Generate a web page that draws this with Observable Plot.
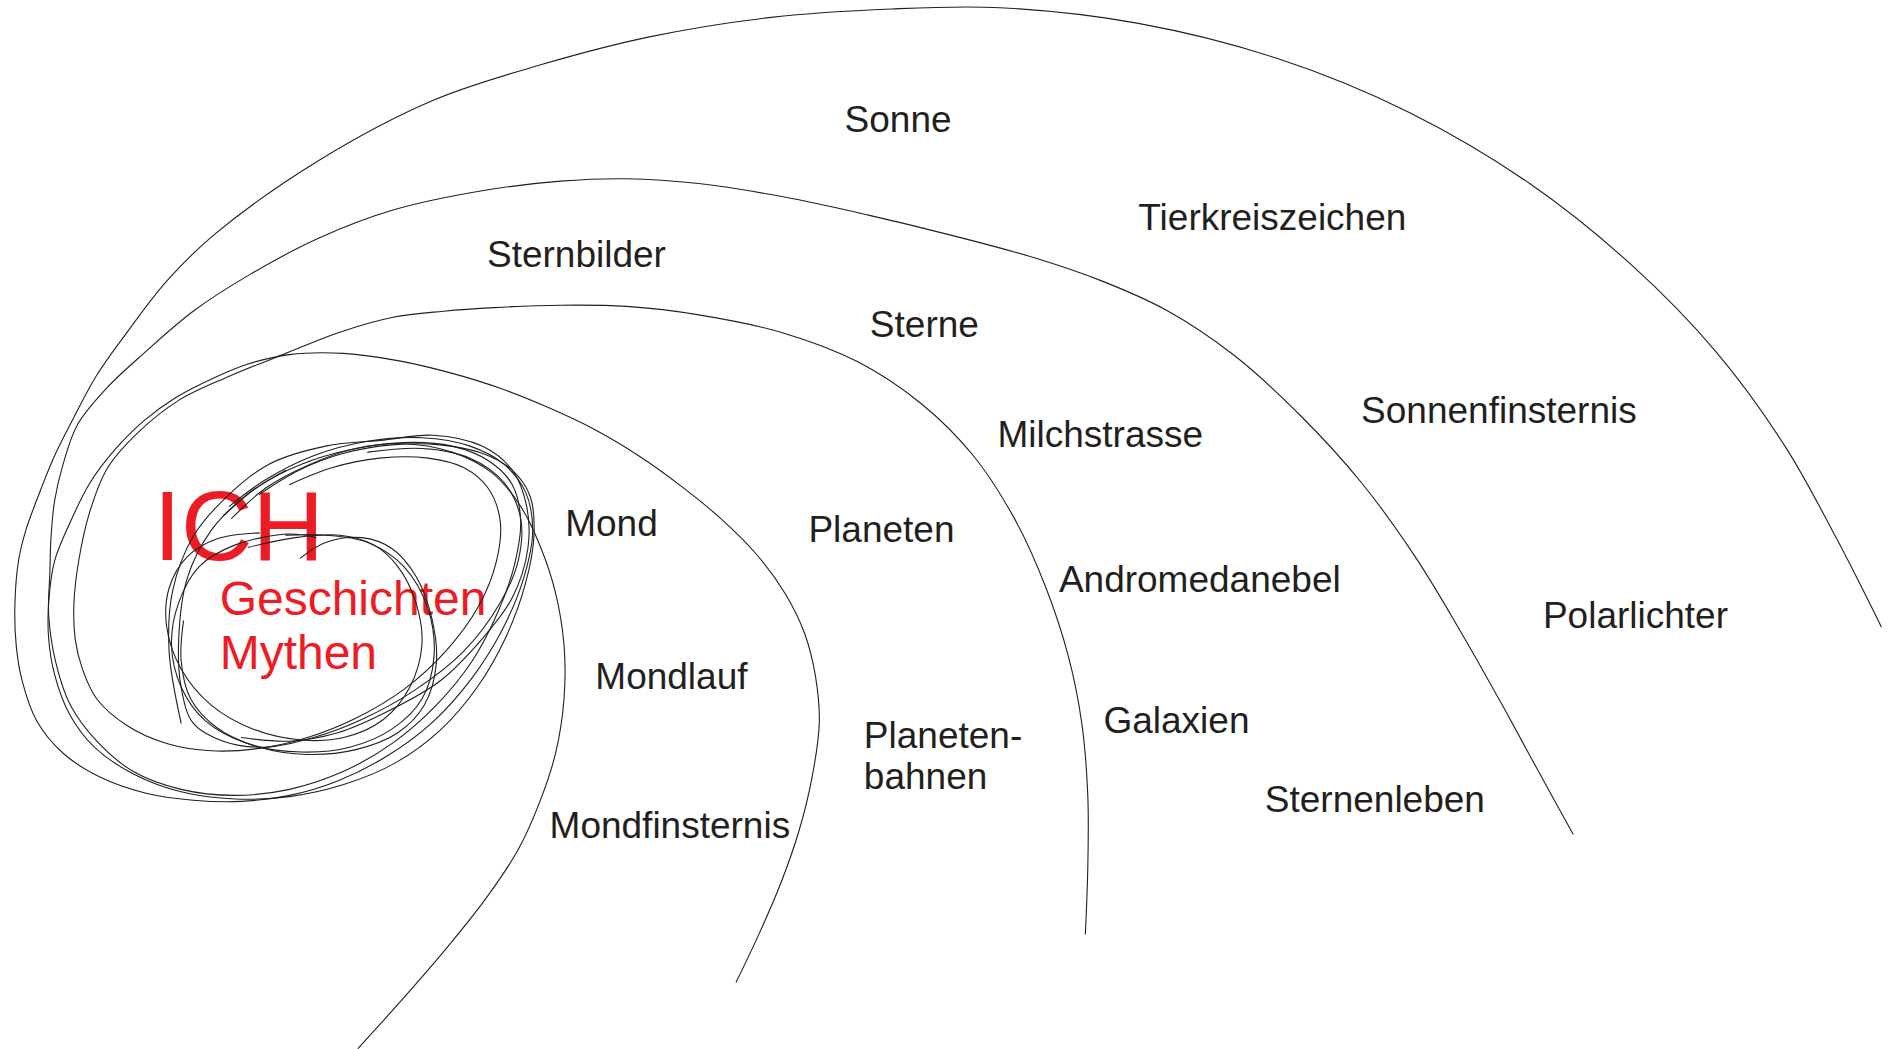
<!DOCTYPE html>
<html><head><meta charset="utf-8">
<script src="https://cdn.jsdelivr.net/npm/d3@7"></script>
<script src="https://cdn.jsdelivr.net/npm/@observablehq/plot@0.6"></script>
<style>body{margin:0;background:#fff}svg{display:block}</style>
</head><body><div id="chart"></div>
<script>
// Strokes (coordinates on a 1568 x 871 grid, origin top-left)
const arm1 = [[297,870],[335,828],[372,785],[405,743],[430,705],[448,665],[461,625],[468,580],[468,535],[461,492],[449,455],[432,420],[408,392],[375,375],[335,368],[295,372],[255,386],[220,405],[192,430]];
const arm2 = [[611,815],[630,775],[648,733],[663,690],[674,645],[680,600],[677,562],[668,526],[652,493],[628,460],[598,430],[565,403],[530,378],[493,356],[455,338],[415,322],[373,309],[330,299],[285,293],[240,294],[205,302],[178,313],[145,330],[119,349],[95,373],[74,401],[58,433],[45,465],[40,500],[40,530],[45,560],[57,592],[78,620],[110,642],[150,657],[195,663],[240,661],[285,651],[328,633],[365,606],[396,570],[420,528],[436,484],[443,445],[440,412],[425,390],[400,376],[365,369],[325,369],[285,376],[248,390],[215,410]];
const arm3 = [[901,775],[903,720],[903,660],[898,600],[887,545],[868,487],[842,430],[808,378],[765,335],[712,300],[650,276],[580,261],[520,254],[465,253],[410,255],[368,258],[326,263],[280,276],[237,293],[190,312],[148,332],[115,358],[89,388],[74,425],[65,465],[61,500],[62,530],[68,555],[80,580],[105,602],[138,617],[175,623],[215,621],[255,612],[295,596],[335,572],[370,540],[397,503],[412,465],[415,432],[405,405],[385,388],[355,380],[315,380],[275,388],[240,402]];
const arm4 = [[1306,692],[1280,645],[1250,590],[1215,528],[1175,462],[1130,400],[1080,345],[1025,295],[968,257],[915,233],[860,214],[790,195],[720,178],[650,163],[580,152],[520,148],[465,150],[400,158],[326,174],[265,197],[208,227],[160,258],[119,293],[88,322],[64,352],[52,385],[45,415],[42,445],[41,475],[40,510],[46,550],[58,585],[80,615],[110,640],[150,655],[194,660],[240,655],[285,640],[325,617],[362,585],[392,548],[413,508],[427,468],[432,432],[425,402],[405,382],[375,370],[335,367],[290,373],[250,385],[215,403],[185,428]];
const arm5 = [[1562,520],[1525,447],[1482,370],[1425,292],[1355,220],[1270,152],[1170,93],[1060,48],[945,19],[830,6],[740,7],[640,14],[540,30],[450,53],[359,83],[264,133],[178,194],[138,233],[104,277],[80,311],[61,346],[44,380],[30,415],[21,440],[15,465],[12,500],[13,535],[18,565],[30,598],[52,625],[83,645],[120,658],[160,664],[200,665],[240,660],[280,648],[320,628],[358,600],[392,562],[418,520],[435,478],[442,440],[436,408],[418,385],[390,370],[350,363],[305,366],[260,378],[220,398],[190,420]];
const midLoop1 = [[150,600],[140,540],[143,490],[160,445],[190,410],[223,385],[270,370],[318,365],[359,361],[400,370],[425,390],[437,420],[438,455],[425,496],[400,530],[365,565],[318,592],[280,608],[240,615],[200,612]];
const midLoop2 = [[305,375],[350,372],[390,380],[418,400],[432,430],[430,465],[415,500],[385,540],[345,572],[300,597],[260,612],[220,620],[185,615],[160,600],[150,570],[148,530],[155,480],[175,440],[205,410],[237,390]];
const innerLoop1 = [[206,454],[245,446],[282,444],[310,452],[330,470],[345,500],[350,535],[340,570],[318,597],[285,612],[250,614],[210,605],[175,585],[150,555],[138,520],[140,488],[155,462],[180,447],[215,442]];
const innerLoop2 = [[237,444],[270,444],[305,450],[335,470],[355,505],[360,545],[350,580],[325,605],[290,620],[250,624],[205,617],[170,598],[150,570],[142,535],[148,500],[165,470],[195,452],[240,443],[262,446]];
const innerLoop3 = [[249,463],[270,450],[300,446],[325,455],[345,478],[358,512],[362,550],[352,585],[330,608],[295,622],[255,626],[215,620],[180,604],[158,580],[150,548],[152,515]];

const labelText = ["Sonne","Tierkreiszeichen","Sternbilder","Sterne","Sonnenfinsternis","Milchstrasse","Mond","Planeten","Andromedanebel","Polarlichter","Mondlauf","Galaxien","Planeten-","bahnen","Sternenleben","Mondfinsternis"];
const labelX = [701,945,404,722,1130,828,469,671,879,1281,494,916,717,717,1050,456];
const labelY = [109.6,190.2,221,279,351,371,445,450,491,521,572,608,621,655,674,695];

const redText = ["Geschichten","Mythen"];
const redX = [182,182];
const redY = [510,555];
const ichText = ["ICH"];
const ichX = [127];
const ichY = [464.3];

const strokes = {arm1, arm2, arm3, arm4, arm5, midLoop1, midLoop2, innerLoop1, innerLoop2, innerLoop3};
const lineData = Object.entries(strokes).flatMap(([id, pts]) => pts.map(([x, y]) => ({id, x, y})));
const labels = labelText.map((t, i) => ({t, x: labelX[i], y: labelY[i]}));
const reds = redText.map((t, i) => ({t, x: redX[i], y: redY[i]}));
const ich = ichText.map((t, i) => ({t, x: ichX[i], y: ichY[i]}));

const chart = Plot.plot({
  width: 1888, height: 1049, margin: 0,
  x: {domain: [0, 1568], range: [0, 1888], axis: null},
  y: {domain: [0, 871], range: [0, 1049], axis: null},
  style: {background: "#fff", fontFamily: "'Liberation Sans', Arial, sans-serif"},
  marks: [
    Plot.text(ich, {x: "x", y: "y", text: "t", textAnchor: "start", lineAnchor: "bottom", fontSize: 99, fill: "#ed1c24"}),
    Plot.text(reds, {x: "x", y: "y", text: "t", textAnchor: "start", lineAnchor: "bottom", fontSize: 48, fill: "#ed1c24"}),
    Plot.line(lineData, {x: "x", y: "y", z: "id", stroke: "#231f20", strokeWidth: 1.1, curve: "catmull-rom"}),
    Plot.text(labels, {x: "x", y: "y", text: "t", textAnchor: "start", lineAnchor: "bottom", fontSize: 37, fill: "#231f20"})
  ]
});
document.getElementById("chart").append(chart);
</script></body></html>
